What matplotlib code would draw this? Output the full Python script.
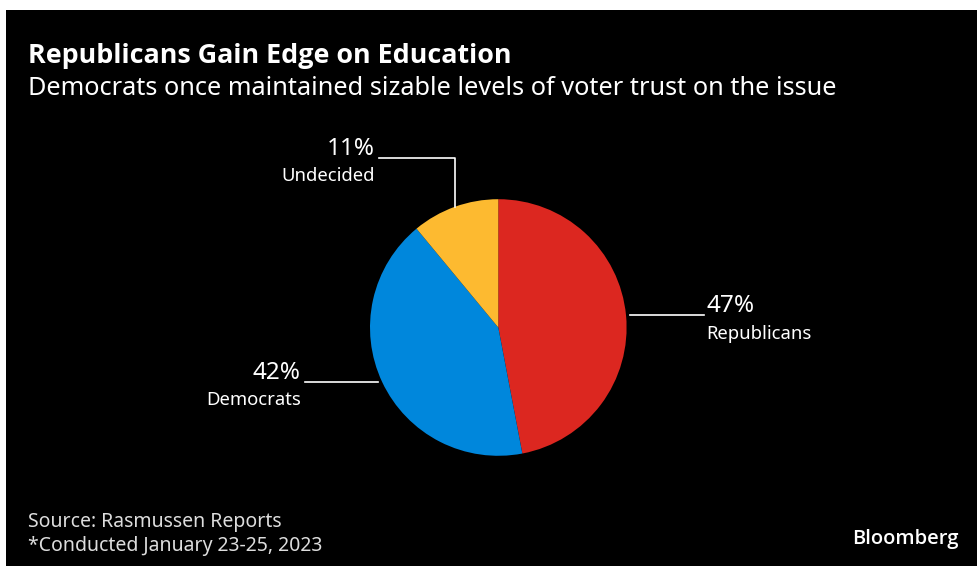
import numpy as np
import matplotlib.pyplot as plt
from matplotlib.patches import Rectangle

# Datos
categorias = ["Republicans", "Democrats", "Undecided"]
valores = [47, 42, 11]
colores = ["#dc2720", "#0087dc", "#fdba30"]

titulo = "Republicans Gain Edge on Education"
subtitulo = "Democrats once maintained sizable levels of voter trust on the issue"
fuente = "Source: Rasmussen Reports"
nota = "*Conducted January 23-25, 2023"

W, H = 977, 566
plt.rcParams['font.family'] = ['Noto Sans', 'DejaVu Sans']

fig = plt.figure(figsize=(W / 100, H / 100), dpi=100, facecolor="white")
fig.patches.append(Rectangle((6 / W, 0), 1, 1 - 10 / H, transform=fig.transFigure,
                             facecolor="black", edgecolor="none", zorder=-10))


def fx(px):
    return px / W


def fy(py):
    return 1 - py / H


# Titulos
fig.text(fx(28), fy(63), titulo, color="white", fontsize=19.4, fontweight="bold",
         family=["Open Sans", "DejaVu Sans"], va="baseline")
fig.text(fx(28), fy(95), subtitulo, color="white", fontsize=18.2, va="baseline")

# Pie
cx, cy, r = 498.3, 327.5, 128.3
ax = fig.add_axes([fx(cx - r), fy(cy + r), 2 * r / W, 2 * r / H])
ax.set_facecolor("none")
wedges, _ = ax.pie(valores, colors=colores, startangle=90, counterclock=False,
                   radius=1, wedgeprops=dict(linewidth=0))
ax.set_xlim(-1, 1)
ax.set_ylim(-1, 1)
ax.set_aspect("equal")
ax.axis("off")

# Etiquetas con lineas guia
for w, cat, v in zip(wedges, categorias, valores):
    ang = np.deg2rad((w.theta1 + w.theta2) / 2)
    x0, y0 = np.cos(ang), np.sin(ang)
    if cat == "Undecided":
        xs = [x0, x0, -0.93]
        ys = [y0, 1.32, 1.32]
        tx, ty, ha = -0.96, 1.32, "right"
    elif x0 > 0:
        xs = [x0 + 0.03, 1.6]
        ys = [y0, y0]
        tx, ty, ha = 1.62, y0, "left"
    else:
        xs = [x0 - 0.03, -1.51]
        ys = [y0, y0]
        tx, ty, ha = -1.54, y0, "right"
    ax.plot(xs, ys, color="white", lw=1.2, clip_on=False)
    ax.text(tx, ty + 0.025, f"{v}%", color="white", fontsize=17.5, ha=ha, va="baseline")
    ax.text(tx, ty - 0.18, cat, color="white", fontsize=13.3, ha=ha, va="baseline")

# Pie de pagina
fig.text(fx(28), fy(527), fuente, color="#dddddd", fontsize=14, va="baseline")
fig.text(fx(28), fy(551), nota, color="#dddddd", fontsize=14, va="baseline")
fig.text(fx(959), fy(544), "Bloomberg", color="white", fontsize=14.5, fontweight="semibold",
         family=["Open Sans", "DejaVu Sans"], ha="right", va="baseline")

fig.savefig("out.png", dpi=100, facecolor=fig.get_facecolor())
